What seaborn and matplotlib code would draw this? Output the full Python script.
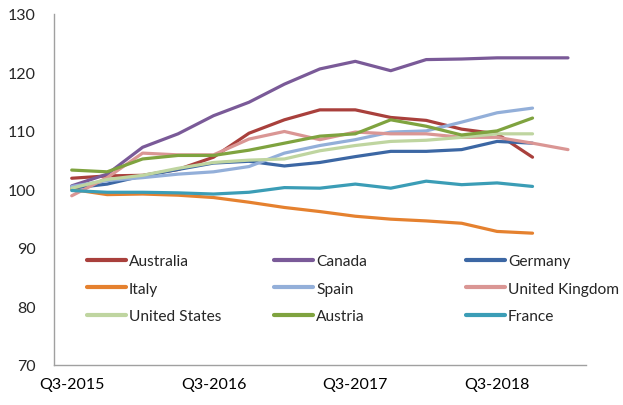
import matplotlib
matplotlib.use("Agg")
import matplotlib.pyplot as plt
import seaborn as sns
import pandas as pd
import numpy as np

quarters = ["Q3-2015", "Q4-2015", "Q1-2016", "Q2-2016", "Q3-2016", "Q4-2016",
            "Q1-2017", "Q2-2017", "Q3-2017", "Q4-2017", "Q1-2018", "Q2-2018",
            "Q3-2018", "Q4-2018", "Q1-2019"]

australia = [101.9, 102.3, 102.4, 103.4, 105.5, 109.6, 111.9, 113.6, 113.6, 112.3, 111.8, 110.3, 109.5, 105.5]
canada = [100.6, 102.6, 107.2, 109.5, 112.6, 114.9, 118.0, 120.6, 121.9, 120.3, 122.2, 122.3, 122.5, 122.5, 122.5]
germany = [100.2, 100.9, 102.3, 103.4, 104.5, 104.8, 104.0, 104.6, 105.6, 106.5, 106.5, 106.8, 108.2, 107.9]
italy = [100.0, 99.1, 99.2, 99.0, 98.6, 97.8, 96.9, 96.2, 95.4, 94.9, 94.6, 94.2, 92.8, 92.5]
spain = [100.5, 101.5, 102.0, 102.6, 103.0, 103.9, 106.2, 107.5, 108.5, 109.8, 110.0, 111.5, 113.1, 113.9]
uk = [98.9, 102.0, 106.2, 105.9, 105.9, 108.6, 109.9, 108.5, 109.8, 109.5, 109.5, 108.9, 108.9, 107.9, 106.8]
usa = [100.2, 101.7, 102.4, 103.6, 104.6, 105.0, 105.2, 106.6, 107.5, 108.2, 108.4, 108.9, 109.5, 109.5]
austria = [103.3, 103.0, 105.2, 105.8, 105.8, 106.7, 107.9, 109.1, 109.5, 111.9, 110.8, 109.3, 110.0, 112.2]
france = [99.8, 99.5, 99.5, 99.4, 99.2, 99.5, 100.3, 100.2, 100.9, 100.2, 101.4, 100.8, 101.1, 100.5]

series = {
    "Australia": australia, "Canada": canada, "Germany": germany,
    "Italy": italy, "Spain": spain, "United Kingdom": uk,
    "United States": usa, "Austria": austria, "France": france,
}
colors = {
    "Australia": "#A9403C", "Canada": "#7A5A98", "Germany": "#3C67A4",
    "Italy": "#E5812F", "Spain": "#93AFD9", "United Kingdom": "#DA9694",
    "United States": "#BFD5A0", "Austria": "#7FA33F", "France": "#3B9DB6",
}

rows = []
for name, vals in series.items():
    for i, v in enumerate(vals):
        rows.append({"quarter": i, "value": v, "country": name})
df = pd.DataFrame(rows)

sns.set_style("white")
plt.rcParams["font.family"] = ["Lato", "DejaVu Sans"]

fig = plt.figure(figsize=(6.23, 4.06), dpi=100)
ax = fig.add_axes([54/623, 1-365.7/406, (585.7-54)/623, (365.7-15)/406])

sns.lineplot(data=df, x="quarter", y="value", hue="country", palette=colors,
             hue_order=list(series.keys()), linewidth=2.3, ax=ax, legend=False,
             sort=False)

ax.set_xlim(-0.5, len(quarters) - 0.5)
ax.set_ylim(70, 130)
ax.set_yticks(np.arange(70, 131, 10))
ax.set_xticks(range(0, len(quarters), 4))
ax.set_xticklabels([quarters[i] for i in range(0, len(quarters), 4)])
ax.set_xticks(np.arange(-0.5, len(quarters), 1), minor=True)
ax.tick_params(axis="x", which="major", length=0, pad=9, labelsize=11.5, colors="black")
ax.tick_params(axis="x", which="minor", length=5, width=1, color="#A0A0A0", direction="out")
ax.tick_params(axis="y", length=5, width=1, color="#A0A0A0", direction="out", labelsize=11.5, pad=8)
ax.set_xlabel("")
ax.set_ylabel("")
for s in ["top", "right"]:
    ax.spines[s].set_visible(False)
for s in ["left", "bottom"]:
    ax.spines[s].set_color("#A0A0A0")
    ax.spines[s].set_linewidth(1)

names = list(series.keys())
col_x = [87/623, 274/623, 466/623]
for c in range(3):
    labels = names[c::3]
    handles = [plt.Line2D([], [], color=colors[n], linewidth=3) for n in labels]
    leg = fig.legend(handles, labels, loc="upper left",
                     bbox_to_anchor=(col_x[c], 1 - 255.5/406), frameon=False,
                     fontsize=11.2, handlelength=2.5, handletextpad=0.2,
                     borderpad=0, borderaxespad=0, labelspacing=0.86)

fig.savefig("out.png", dpi=100)
